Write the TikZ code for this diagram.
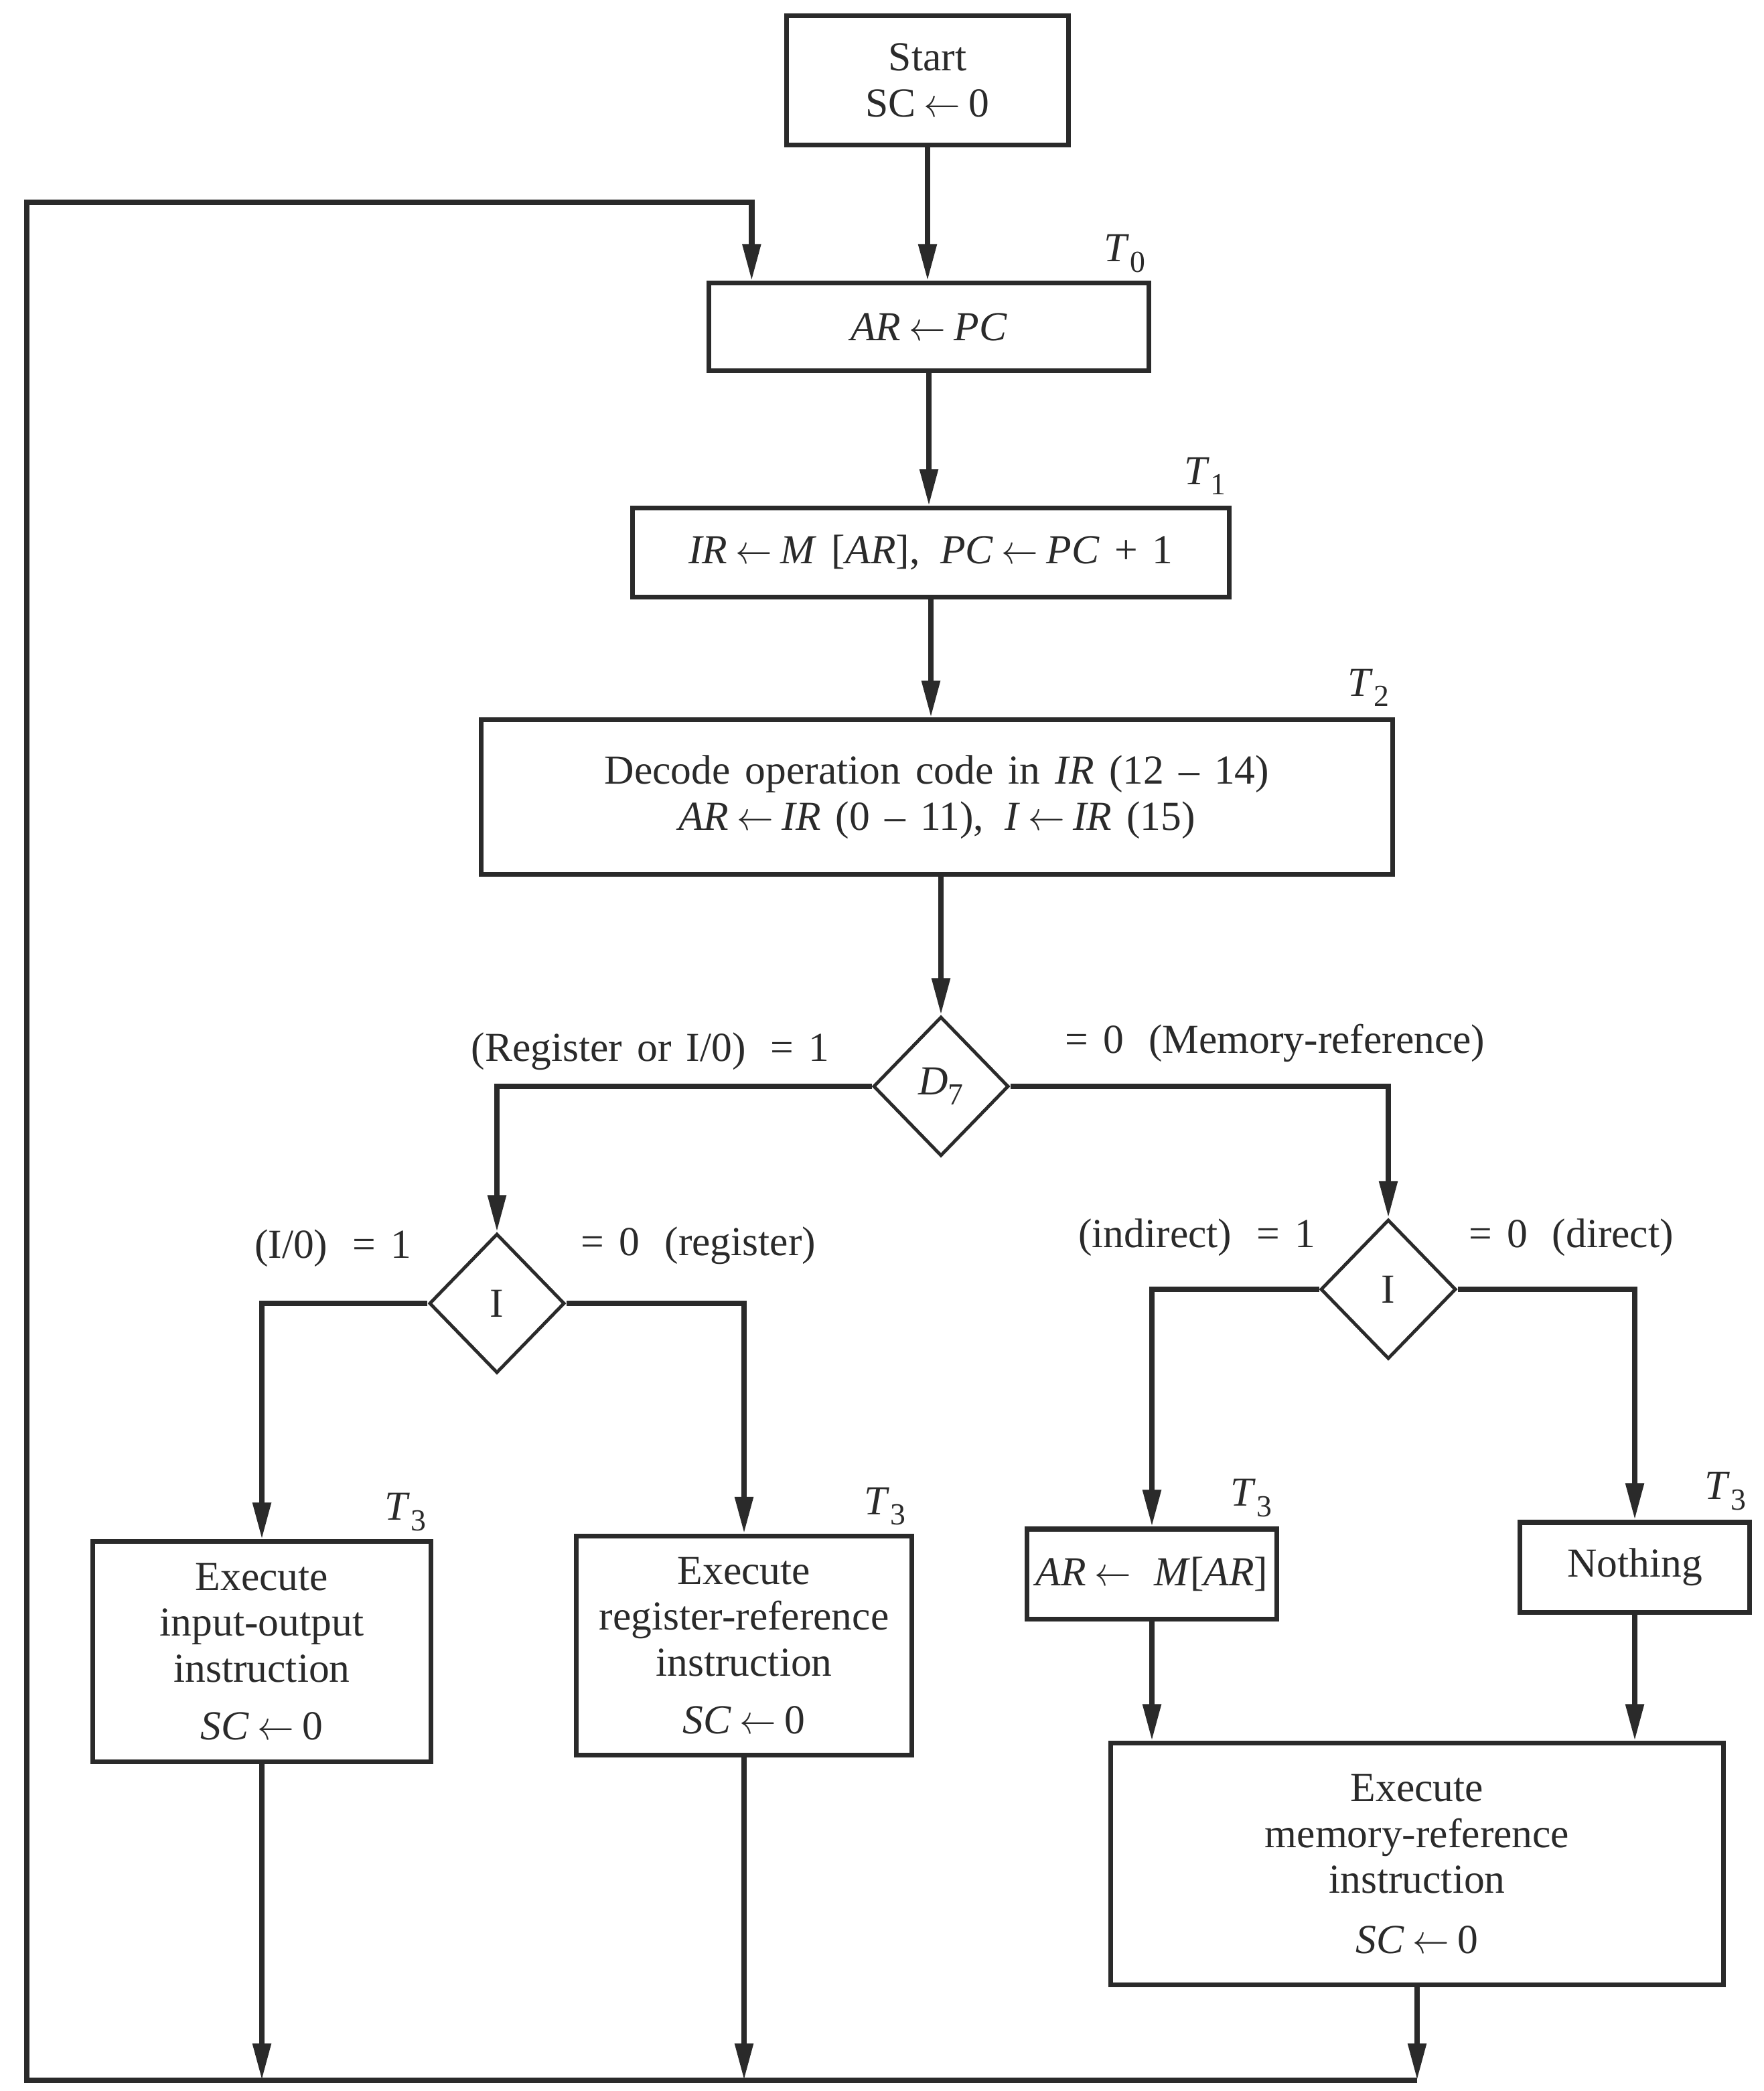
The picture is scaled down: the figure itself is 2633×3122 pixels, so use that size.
\documentclass[tikz,border=0pt]{standalone}
\usepackage{fontspec}
\setmainfont{Liberation Serif}
\usetikzlibrary{shapes.geometric,arrows.meta}
\definecolor{ink}{HTML}{2A2A2A}
\newcommand\lbl{\fontsize{17.5}{19.5}\selectfont\spaceskip=0.36em plus 0.1em\relax}
\newcommand\la{\kern0.2em\scalebox{0.9}[1]{$\leftarrow$}\kern0.2em}
\newcommand\Tn[1]{\textit{T}\kern0.02em\raisebox{-0.55ex}{\fontsize{13}{13}\selectfont #1}}
\tikzset{
  box/.style={draw=ink, line width=2pt, inner sep=0pt, align=center, fill=white},
  dia/.style={diamond, draw=ink, line width=1.4pt, minimum width=2.02cm, minimum height=2.08cm, inner sep=0pt},
  conn/.style={draw=ink, line width=2.4pt, -{Triangle[length=0.55cm,width=0.26cm]}},
  tlab/.style={anchor=south east, inner sep=0pt, text=ink},
  blab/.style={inner sep=0pt, text=ink}
}
\begin{document}
\begin{tikzpicture}[x=0.01cm, y=-0.01cm, font=\lbl, text=ink]
\useasboundingbox (0,0) rectangle (2633,3122);
\fill[white] (0,0) rectangle (2633,3122);

% boxes
\node[box, minimum width=4.2cm, minimum height=1.93cm] (start) at (1385,120) {Start\\SC\la0};
\node[box, minimum width=6.56cm, minimum height=1.3cm] (arpc) at (1387,488) {\textit{AR}\la\textit{PC}};
\node[box, minimum width=8.9cm, minimum height=1.32cm] (ir) at (1390,825) {\textit{IR}\la\textit{M} [\textit{AR}],\enspace \textit{PC}\la\textit{PC} + 1};
\node[box, minimum width=13.6cm, minimum height=2.3cm] (dec) at (1399,1190) {Decode operation code in \textit{IR} (12 – 14)\\\textit{AR}\la\textit{IR} (0 – 11),\enspace \textit{I}\la\textit{IR} (15)};
\node[dia] (d7) at (1405,1622) {\textit{D}\raisebox{-0.55ex}{\fontsize{13}{13}\selectfont 7}};
\node[dia] (i1) at (742,1946) {I};
\node[dia] (i2) at (2073,1925) {I};
\node[box, minimum width=5.05cm, minimum height=3.28cm] (io) at (391,2466) {Execute\\input-output\\instruction\\[5pt]\textit{SC}\la0};
\node[box, minimum width=5.0cm, minimum height=3.27cm] (reg) at (1111,2457) {Execute\\register-reference\\instruction\\[5pt]\textit{SC}\la0};
\node[box, minimum width=3.73cm, minimum height=1.34cm] (arm) at (1720,2350) {\textit{AR}\la\ \textit{M}[\textit{AR}]};
\node[box, minimum width=3.43cm, minimum height=1.34cm] (noth) at (2441,2340) {Nothing};
\node[box, minimum width=9.15cm, minimum height=3.6cm] (mem) at (2116,2783) {Execute\\memory-reference\\instruction\\[6pt]\textit{SC}\la0};

% timing labels
\node[tlab] (t0) at ([xshift=-0.08cm,yshift=0.12cm]arpc.north east) {\Tn{0}};
\node[tlab] (t1) at ([xshift=-0.08cm,yshift=0.16cm]ir.north east) {\Tn{1}};
\node[tlab] (t2) at ([xshift=-0.08cm,yshift=0.16cm]dec.north east) {\Tn{2}};
\node[tlab] (t3a) at ([xshift=-0.1cm,yshift=0.12cm]io.north east) {\Tn{3}};
\node[tlab] (t3b) at ([xshift=-0.12cm,yshift=0.12cm]reg.north east) {\Tn{3}};
\node[tlab] (t3c) at ([xshift=-0.1cm,yshift=0.14cm]arm.north east) {\Tn{3}};
\node[tlab] (t3d) at ([xshift=-0.08cm,yshift=0.14cm]noth.north east) {\Tn{3}};

% branch labels
\node[blab] (l1) at (971,1570) {(Register or I/0)\hspace{0.6em}= 1};
\node[blab] (l2) at (1904,1557) {= 0\hspace{0.6em}(Memory-reference)};
\node[blab] (l3) at (497,1864) {(I/0)\hspace{0.6em}= 1};
\node[blab] (l4) at (1043,1860) {= 0\hspace{0.6em}(register)};
\node[blab] (l5) at (1787,1848) {(indirect)\hspace{0.6em}= 1};
\node[blab] (l6) at (2346,1848) {= 0\hspace{0.6em}(direct)};

% connectors
\draw[conn] (start.south) -- (start.south |- arpc.north);
\draw[conn] (arpc.south) -- (arpc.south |- ir.north);
\draw[conn] (ir.south) -- (ir.south |- dec.north);
\draw[conn] (d7.north |- dec.south) -- (d7.north);
\draw[conn] (d7.west) -| (i1.north);
\draw[conn] (d7.east) -| (i2.north);
\draw[conn] (i1.west) -| (io.north);
\draw[conn] (i1.east) -| (reg.north);
\draw[conn] (i2.west) -| (arm.north);
\draw[conn] (i2.east) -| (noth.north);
\draw[conn] (arm.south) -- (arm.south |- mem.north);
\draw[conn] (noth.south) -- (noth.south |- mem.north);

\coordinate (bl) at (40,3106);
\coordinate (tl) at (40,302);
\coordinate (ent) at ([xshift=0.67cm]arpc.north west);
\draw[conn] (io.south) -- (io.south |- bl);
\draw[conn] (reg.south) -- (reg.south |- bl);
\draw[conn] (mem.south) -- (mem.south |- bl);
\draw[conn, line join=miter] (mem.south |- bl) -- (bl) -- (tl) -| (ent);
\end{tikzpicture}
\end{document}
